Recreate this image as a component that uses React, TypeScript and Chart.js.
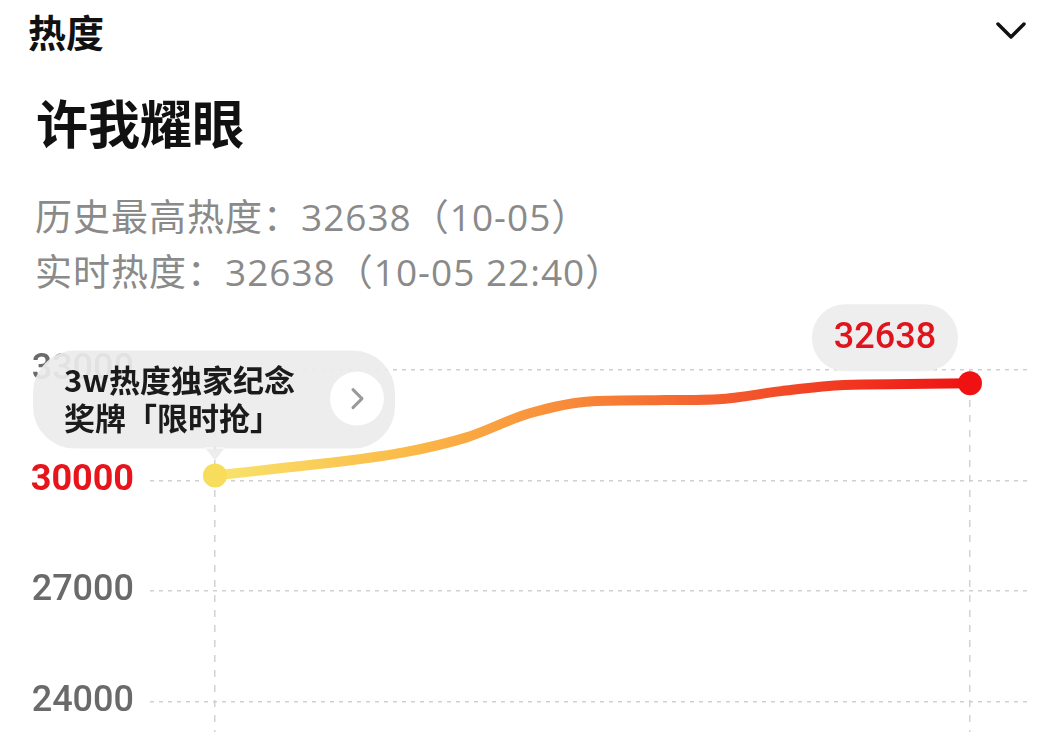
import React, { useEffect, useRef } from "react";
import { Chart, registerables } from "chart.js";

Chart.register(...registerables);

// ---- data ----
const heatValues = [30136, 30327, 30518, 30764, 31173, 31827, 32155, 32182, 32209, 32427, 32591, 32618, 32638];
const yTickValues = [24000, 27000, 30000, 33000];
const highlightTick = 30000;
const peakValue = 32638;
const calloutLines = ["3w热度独家纪念", "奖牌「限时抢」"];
const sectionTitle = "热度";
const songTitle = "许我耀眼";
const statLines = ["历史最高热度：32638（10-05）", "实时热度：32638（10-05 22:40）"];

const annotPlugin = {
  id: "annot",
  afterDraw(chart: any) {
    const meta = chart.getDatasetMeta(0);
    const first = meta.data[0];
    const last = meta.data[meta.data.length - 1];
    const ctx = chart.ctx as CanvasRenderingContext2D;
    ctx.save();
    // callout box with pointer
    const bx = first.x - 182, by = first.y - 125, bw = 362, bh = 98;
    ctx.fillStyle = "rgba(236,236,236,0.93)";
    ctx.beginPath();
    ctx.roundRect(bx, by, bw, bh, 42);
    ctx.moveTo(first.x - 10, by + bh - 1);
    ctx.lineTo(first.x, first.y - 15);
    ctx.lineTo(first.x + 10, by + bh - 1);
    ctx.closePath();
    ctx.fill();
    ctx.fillStyle = "#1b1b1b";
    ctx.font = 'bold 31px "Noto Sans CJK SC"';
    ctx.textBaseline = "middle";
    ctx.textAlign = "left";
    ctx.fillText(calloutLines[0], first.x - 151, first.y - 95);
    ctx.fillText(calloutLines[1], first.x - 151, first.y - 57);
    // circle arrow
    const cx = first.x + 142, cy = first.y - 77;
    ctx.fillStyle = "#ffffff";
    ctx.beginPath();
    ctx.arc(cx, cy, 27, 0, Math.PI * 2);
    ctx.fill();
    ctx.strokeStyle = "#9a9a9a";
    ctx.lineWidth = 3;
    ctx.lineCap = "round";
    ctx.lineJoin = "round";
    ctx.beginPath();
    ctx.moveTo(cx - 4, cy - 9);
    ctx.lineTo(cx + 5, cy);
    ctx.lineTo(cx - 4, cy + 9);
    ctx.stroke();
    // peak bubble
    const pw = 146, ph = 67;
    const px = last.x - 12 - pw, py = last.y - 12 - ph;
    ctx.fillStyle = "#eeeeee";
    ctx.beginPath();
    ctx.roundRect(px, py, pw, ph, 33);
    ctx.fill();
    ctx.fillStyle = "#e0141c";
    ctx.font = '500 36px Roboto';
    ctx.textAlign = "center";
    ctx.fillText(String(peakValue), px + pw / 2, py + ph / 2 + 1);
    ctx.restore();
  },
};

function HeatChart() {
  const ref = useRef<HTMLCanvasElement>(null);
  useEffect(() => {
    const last = heatValues.length - 1;
    const chart = new Chart(ref.current!, {
      type: "line",
      data: {
        datasets: [
          {
            data: heatValues.map((v, i) => ({ x: i, y: v })),
            borderWidth: 10,
            borderCapStyle: "round",
            cubicInterpolationMode: "monotone",
            clip: false as any,
            borderColor: (c: any) => {
              const ch = c.chart;
              if (!ch.chartArea) return "#f5502a";
              const xs = ch.scales.x;
              const g = ch.ctx.createLinearGradient(xs.getPixelForValue(0), 0, xs.getPixelForValue(last), 0);
              g.addColorStop(0, "#f8e46c");
              g.addColorStop(0.25, "#fbbb48");
              g.addColorStop(0.45, "#f88e3a");
              g.addColorStop(0.7, "#f3562c");
              g.addColorStop(1, "#ee1212");
              return g;
            },
            pointRadius: (c: any) => (c.dataIndex === 0 || c.dataIndex === last ? 12 : 0),
            pointHoverRadius: 0,
            pointBorderWidth: 0,
            pointBackgroundColor: (c: any) => (c.dataIndex === 0 ? "#f8dd5c" : "#f01212"),
          } as any,
        ],
      },
      options: {
        animation: false,
        responsive: true,
        maintainAspectRatio: false,
        events: [],
        layout: { padding: { left: 0, right: 17, top: 70, bottom: 0 } },
        plugins: { legend: { display: false }, tooltip: { enabled: false } },
        scales: {
          x: {
            type: "linear",
            min: -1.033,
            max: 12.954,
            ticks: { display: false },
            afterBuildTicks: (s: any) => {
              s.ticks = [{ value: 0 }, { value: last }];
            },
            grid: { color: "#d2d2d2", lineWidth: 1.5, drawTicks: false },
            border: { display: false, dash: [7, 8] },
          },
          y: {
            min: 23127,
            max: 33000,
            afterBuildTicks: (s: any) => {
              s.ticks = yTickValues.map((v) => ({ value: v }));
            },
            afterFit: (s: any) => {
              s.width = 150;
              s.paddingTop = 0;
              s.paddingBottom = 0;
            },
            ticks: {
              padding: 16,
              color: (c: any) => (c.tick && c.tick.value === highlightTick ? "#e8141c" : "#6a6a6a"),
              font: (c: any) => ({
                family: "Roboto",
                size: 36,
                weight: c.tick && c.tick.value === highlightTick ? "bold" : "500",
              }),
              callback: (v: any) => String(v),
            },
            grid: { color: "#d0d0d0", lineWidth: 1.5, drawTicks: false },
            border: { display: false, dash: [4, 5] },
          },
        },
      } as any,
      plugins: [annotPlugin],
    });
    return () => chart.destroy();
  }, []);
  return <canvas ref={ref} />;
}

const statStyle: React.CSSProperties = {
  position: "absolute",
  left: 35,
  fontSize: 37,
  fontWeight: 400,
  lineHeight: 1,
  letterSpacing: 1,
  color: "#8a8a8a",
  whiteSpace: "nowrap",
  fontFamily: '"Open Sans", "Noto Sans CJK SC", sans-serif',
};

export default function App() {
  return (
    <div
      style={{
        position: "absolute",
        left: 0,
        top: 0,
        width: 1047,
        height: 732,
        background: "#fff",
        overflow: "hidden",
        fontFamily: '"Noto Sans CJK SC", sans-serif',
      }}
    >
      <div style={{ position: "absolute", left: 28, top: 12, fontSize: 38, fontWeight: 700, lineHeight: 1, color: "#111" }}>
        {sectionTitle}
      </div>
      <svg style={{ position: "absolute", left: 995, top: 19 }} width={32} height={24}>
        <polyline points="3,5 16,18 29,5" fill="none" stroke="#111" strokeWidth={3.5} strokeLinecap="round" strokeLinejoin="round" />
      </svg>
      <div style={{ position: "absolute", left: 36, top: 96, fontSize: 52, fontWeight: 700, lineHeight: 1, color: "#111" }}>
        {songTitle}
      </div>
      <div style={{ ...statStyle, top: 198 }}>{statLines[0]}</div>
      <div style={{ ...statStyle, top: 253 }}>{statLines[1]}</div>
      <div style={{ position: "absolute", left: 0, top: 300, width: 1047, height: 446 }}>
        <HeatChart />
      </div>
    </div>
  );
}
